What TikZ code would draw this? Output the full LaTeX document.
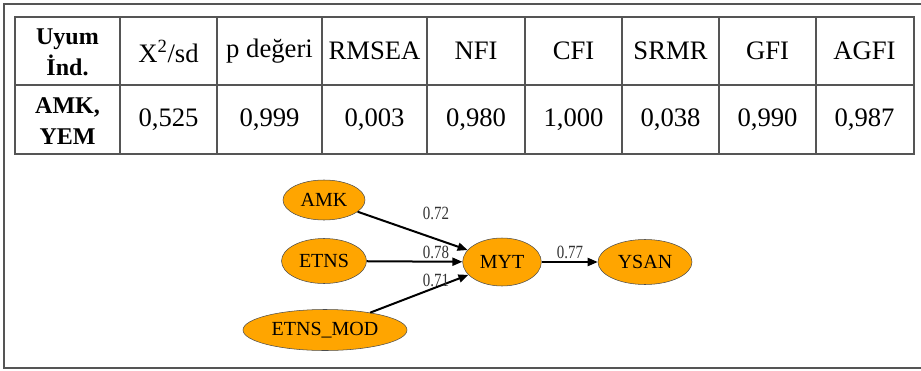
\documentclass[tikz,border=0pt]{standalone}
\usepackage{fontspec}
\setmainfont{Liberation Serif}
\usepackage{xcolor}
\usepackage{tikz}
\usetikzlibrary{arrows.meta,shapes.geometric,positioning}

\definecolor{latentorange}{HTML}{FFA500}
\definecolor{rulegray}{HTML}{555555}

\tikzset{
  cell/.style={font=\fontsize{20}{17.5}\selectfont, align=center, inner sep=0pt},
  headcell/.style={cell, font=\fontsize{18}{23}\selectfont\bfseries},
  latent/.style={ellipse, draw=black!70, thin, fill=latentorange,
                 inner sep=1pt, font=\fontsize{15}{15}\selectfont},
  path/.style={-{Triangle[length=7.5pt,width=6pt]}, line width=1.5pt},
  coef/.style={font=\fontsize{14}{14}\selectfont, text=black!80,
               xscale=0.8, inner sep=0pt},
}

\begin{document}
\begin{tikzpicture}[x=0.75pt, y=-0.75pt]

  \useasboundingbox (0,0) rectangle (921,371);

  %--- Outer frame ---------------------------------------------------------
  \draw[rulegray, line width=1.5pt] (921,4) -- (4,4) -- (4,368) -- (921,368);

  %--- Table grid ----------------------------------------------------------
  \draw[rulegray, line width=1pt] (15,17) rectangle (914,154);
  \draw[rulegray, line width=1pt] (15,85) -- (914,85);
  \foreach \xx in {120,217,322,427,525,622,719,816}
    \draw[rulegray, line width=1pt] (\xx,17) -- (\xx,154);

  %--- Header row ----------------------------------------------------------
  \node[headcell] (h1) at (67.5,52)  {Uyum\\İnd.};
  \node[cell]     (h2) at (168.5,51) {X\textsuperscript{2}/sd};
  \node[cell]     (h3) at (269.5,51) {p değeri};
  \node[cell]     (h4) at (374.5,51) {RMSEA};
  \node[cell]     (h5) at (476,51)   {NFI};
  \node[cell]     (h6) at (573.5,51) {CFI};
  \node[cell]     (h7) at (670.5,51) {SRMR};
  \node[cell]     (h8) at (767.5,51) {GFI};
  \node[cell]     (h9) at (864.5,51) {AGFI};

  %--- Value row -----------------------------------------------------------
  \node[headcell] (v1) at (67.5,121)  {AMK,\\YEM};
  \node[cell]     (v2) at (168.5,120) {0,525};
  \node[cell]     (v3) at (269.5,120) {0,999};
  \node[cell]     (v4) at (374.5,120) {0,003};
  \node[cell]     (v5) at (476,120)   {0,980};
  \node[cell]     (v6) at (573.5,120) {1,000};
  \node[cell]     (v7) at (670.5,120) {0,038};
  \node[cell]     (v8) at (767.5,120) {0,990};
  \node[cell]     (v9) at (864.5,120) {0,987};

  %--- Path model ----------------------------------------------------------
  \node[latent, minimum width=61.5pt, minimum height=30pt]   (amk)     at (324,200) {AMK};
  \node[latent, minimum width=63.75pt, minimum height=33.75pt] (etns)  at (324,261) {ETNS};
  \node[latent, minimum width=123pt, minimum height=30.75pt] (etnsmod) at (325,330) {ETNS\_MOD};
  \node[latent, minimum width=59pt, minimum height=36pt]     (myt)     at (502,262) {MYT};
  \node[latent, minimum width=70.5pt, minimum height=33.75pt] (ysan)   at (645,262) {YSAN};

  \draw[path] (amk)     -- (myt);
  \draw[path] (etns)    -- (myt);
  \draw[path] (etnsmod) -- (myt);
  \draw[path] (myt)     -- (ysan);

  %--- Path coefficients ---------------------------------------------------
  \node[coef] (c1) at (436,213) {0.72};
  \node[coef] (c2) at (436,252) {0.78};
  \node[coef] (c3) at (436,280) {0.71};
  \node[coef] (c4) at (570,252) {0.77};

\end{tikzpicture}
\end{document}
